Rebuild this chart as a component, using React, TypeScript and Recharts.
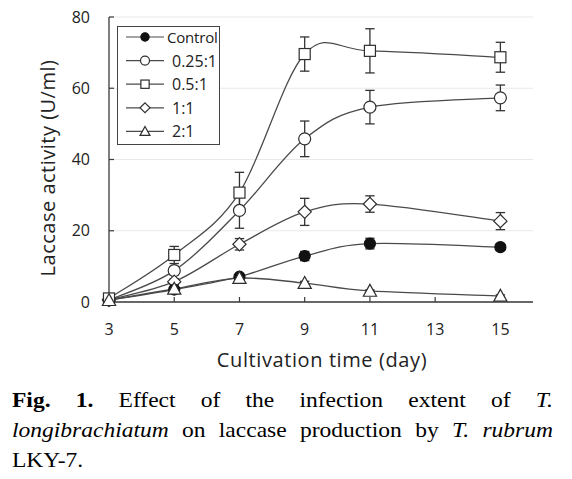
import React from 'react';
import { LineChart, Line, XAxis, YAxis, CartesianGrid, ErrorBar, Legend } from 'recharts';

const days = [3, 5, 7, 9, 11, 15];
const seriesNames = ['Control', '0.25:1', '0.5:1', '1:1', '2:1'];
const control = [0.5, 3.5, 7.1, 12.9, 16.4, 15.4];
const controlErr = [0.3, 0.5, 0.6, 1.3, 1.5, 0.8];
const ratio025 = [0.6, 8.8, 25.7, 45.8, 54.7, 57.3];
const ratio025Err = [0.3, 1.2, 5.0, 5.0, 4.7, 3.6];
const ratio05 = [1.0, 13.2, 30.7, 69.6, 70.5, 68.7];
const ratio05Err = [0.3, 2.4, 5.7, 4.8, 6.2, 4.2];
const ratio11 = [0.6, 5.7, 16.2, 25.3, 27.5, 22.7];
const ratio11Err = [0.3, 0.8, 1.6, 3.8, 2.3, 2.4];
const ratio21 = [0.5, 3.7, 6.7, 5.3, 3.1, 1.7];
const ratio21Err = [0.2, 0.4, 0.5, 0.5, 0.3, 0.3];
const xTicks = [3, 5, 7, 9, 11, 13, 15];
const yTicks = [0, 20, 40, 60, 80];

const data = days.map((d, i) => ({
  day: d,
  control: control[i],
  controlErr: controlErr[i],
  r025: ratio025[i],
  r025Err: ratio025Err[i],
  r05: ratio05[i],
  r05Err: ratio05Err[i],
  r11: ratio11[i],
  r11Err: ratio11Err[i],
  r21: ratio21[i],
  r21Err: ratio21Err[i],
}));

const LINE = '#4a4a4a';
const MARK = '#2e2e2e';
const SANS = '"Open Sans", "Noto Sans", sans-serif';

// Excel-like smoothed line (Catmull-Rom as cubic Bezier)
function smoothCurve(context: any) {
  let pts: number[][] = [];
  return {
    areaStart() {},
    areaEnd() {},
    lineStart() {
      pts = [];
    },
    point(x: number, y: number) {
      pts.push([+x, +y]);
    },
    lineEnd() {
      const n = pts.length;
      if (n === 0) return;
      context.moveTo(pts[0][0], pts[0][1]);
      for (let i = 0; i < n - 1; i++) {
        const p0 = pts[i > 0 ? i - 1 : i];
        const p1 = pts[i];
        const p2 = pts[i + 1];
        const p3 = pts[i + 2 < n ? i + 2 : i + 1];
        context.bezierCurveTo(
          p1[0] + (p2[0] - p0[0]) / 6,
          p1[1] + (p2[1] - p0[1]) / 6,
          p2[0] - (p3[0] - p1[0]) / 6,
          p2[1] - (p3[1] - p1[1]) / 6,
          p2[0],
          p2[1]
        );
      }
    },
  };
}

type Shape = 'filled' | 'circle' | 'square' | 'diamond' | 'triangle';
const shapes: Shape[] = ['filled', 'circle', 'square', 'diamond', 'triangle'];

function Marker({ shape, cx, cy, s }: { shape: Shape; cx: number; cy: number; s: number }) {
  const sw = 1.2;
  if (shape === 'filled') return <circle cx={cx} cy={cy} r={s * 0.46} fill="#111" stroke="#111" strokeWidth={sw} />;
  if (shape === 'circle') return <circle cx={cx} cy={cy} r={s * 0.5} fill="#fff" stroke={MARK} strokeWidth={sw} />;
  if (shape === 'square')
    return <rect x={cx - s * 0.46} y={cy - s * 0.46} width={s * 0.92} height={s * 0.92} fill="#fff" stroke={MARK} strokeWidth={sw} />;
  if (shape === 'diamond') {
    const h = s * 0.55;
    return <polygon points={`${cx},${cy - h} ${cx + h},${cy} ${cx},${cy + h} ${cx - h},${cy}`} fill="#fff" stroke={MARK} strokeWidth={sw} />;
  }
  const h = s * 0.55;
  return (
    <polygon
      points={`${cx},${cy - h} ${cx + h},${cy + h * 0.8} ${cx - h},${cy + h * 0.8}`}
      fill="#fff"
      stroke={MARK}
      strokeWidth={sw}
    />
  );
}

const dotFor = (shape: Shape) => (props: any) => {
  const { cx, cy, index } = props;
  if (cx == null || cy == null) return <g key={`d-${shape}-${index}`} />;
  return (
    <g key={`d-${shape}-${index}`}>
      <Marker shape={shape} cx={cx} cy={cy} s={12} />
    </g>
  );
};

const LegendBox = () => (
  <svg width={101} height={117} style={{ display: 'block' }}>
    {seriesNames.map((name, i) => {
      const y = 10 + i * 23.6;
      return (
        <g key={name}>
          <line x1={8} x2={46} y1={y} y2={y} stroke={LINE} strokeWidth={1.2} />
          <Marker shape={shapes[i]} cx={27} cy={y} s={9} />
          <text
            x={i === 0 ? 49 : 54}
            y={y}
            dominantBaseline="central"
            fontSize={i === 0 ? 15 : 16}
            letterSpacing={i === 0 ? -0.2 : 0}
            fontFamily={SANS}
            fill="#222"
          >
            {name}
          </text>
        </g>
      );
    })}
  </svg>
);

const keys = ['control', 'r025', 'r05', 'r11', 'r21'];
const drawOrder = [1, 3, 0, 2, 4];

export default function App() {
  return (
    <div style={{ position: 'absolute', left: 0, top: 0, width: 572, height: 479, background: '#fff' }}>
      <LineChart
        width={572}
        height={380}
        data={data}
        margin={{ top: 17, right: 39, bottom: 48, left: 49 }}
        style={{ fontFamily: SANS }}
      >
        <CartesianGrid vertical={false} stroke="#e9e9e9" strokeWidth={1} />
        <XAxis
          dataKey="day"
          type="number"
          domain={[3, 16]}
          ticks={xTicks}
          height={30}
          tickSize={-5}
          tickMargin={27}
          tick={{ fill: '#222', fontSize: 16, fontFamily: SANS }}
          axisLine={{ stroke: '#3a3a3a', strokeWidth: 1.3 }}
          tickLine={{ stroke: '#3a3a3a', strokeWidth: 1.2 }}
          label={{
            content: () => (
              <text x={322} y={367} textAnchor="middle" fontSize={20} fontFamily={SANS} fill="#222" letterSpacing={0.6}>
                Cultivation time (day)
              </text>
            ),
          }}
        />
        <XAxis
          xAxisId="top"
          orientation="top"
          dataKey="day"
          type="number"
          domain={[3, 16]}
          height={0}
          tick={false}
          tickLine={false}
          axisLine={{ stroke: '#3a3a3a', strokeWidth: 1.3 }}
        />
        <YAxis
          type="number"
          domain={[0, 80]}
          ticks={yTicks}
          width={60}
          tickSize={-5}
          tickMargin={24}
          tick={{ fill: '#222', fontSize: 16, fontFamily: SANS }}
          axisLine={{ stroke: '#3a3a3a', strokeWidth: 1.3 }}
          tickLine={{ stroke: '#3a3a3a', strokeWidth: 1.2 }}
          label={{
            content: () => (
              <text
                x={47}
                y={168}
                transform="rotate(-90 47 168)"
                textAnchor="middle"
                dominantBaseline="central"
                fontSize={20}
                fontFamily={SANS}
                fill="#222"
                letterSpacing={0.5}
              >
                Laccase activity (U/ml)
              </text>
            ),
          }}
        />
        <YAxis
          yAxisId="right"
          orientation="right"
          type="number"
          domain={[0, 80]}
          width={0}
          tick={false}
          tickLine={false}
          axisLine={{ stroke: '#3a3a3a', strokeWidth: 1.3 }}
        />
        <Legend
          layout="vertical"
          align="center"
          verticalAlign="middle"
          content={() => <LegendBox />}
          wrapperStyle={{
            left: 117,
            top: 26,
            width: 103,
            height: 119,
            border: '1.3px solid #444',
            background: '#fff',
            boxSizing: 'border-box',
          }}
        />
        {drawOrder.map((i) => (
          <Line
            key={keys[i]}
            dataKey={keys[i]}
            name={seriesNames[i]}
            type={smoothCurve as any}
            stroke={LINE}
            strokeWidth={1.3}
            dot={dotFor(shapes[i])}
            activeDot={false}
            isAnimationActive={false}
          >
            <ErrorBar dataKey={`${keys[i]}Err`} direction="y" width={4.7} stroke="#333" strokeWidth={1.3} />
          </Line>
        ))}
      </LineChart>
      <div
        style={{
          position: 'absolute',
          left: 12,
          top: 385,
          width: 483,
          transform: 'scaleX(1.12)',
          transformOrigin: 'left top',
          fontFamily: '"Liberation Serif", "Times New Roman", serif',
          fontSize: 21,
          lineHeight: '30px',
          color: '#000',
        }}
      >
        <div style={{ textAlign: 'justify', textAlignLast: 'justify' }}>
          <b>Fig. 1.</b> Effect of the infection extent of <i>T.</i>
        </div>
        <div style={{ textAlign: 'justify', textAlignLast: 'justify' }}>
          <i>longibrachiatum</i> on laccase production by <i>T. rubrum</i>
        </div>
        <div>LKY-7.</div>
      </div>
    </div>
  );
}
